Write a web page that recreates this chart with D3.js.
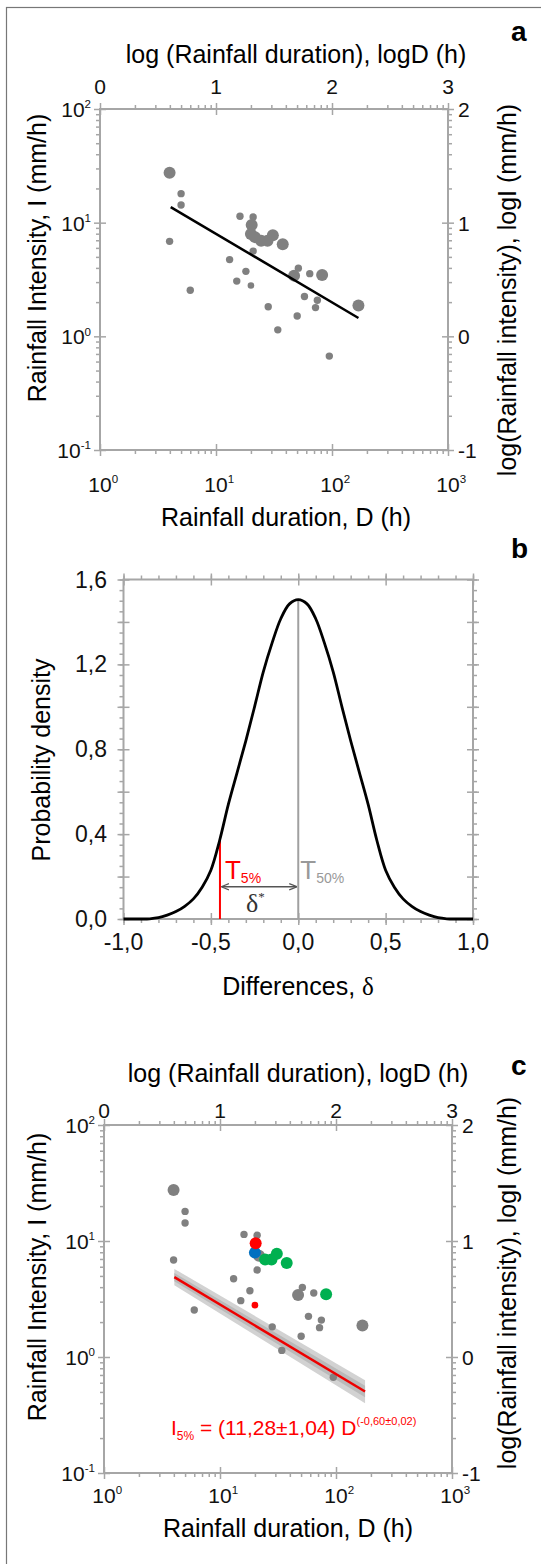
<!DOCTYPE html>
<html>
<head>
<meta charset="utf-8">
<script src="https://cdn.jsdelivr.net/npm/d3@7"></script>
<style>
  body { margin: 0; background: #fff; }
  svg { display: block; font-family: 'Liberation Sans', Arial, sans-serif; }
  .tick line { stroke: #a6a6a6; stroke-width: 1.5; }
  .ticklab { font-family: 'Liberation Sans Narrow', 'Arial Narrow', 'Liberation Sans', sans-serif; fill: #111; }
</style>
</head>
<body>
<svg id="fig" width="541" height="1564"></svg>
<script>
// Rainfall intensity-duration data (panels a and c) and density of differences (panel b)

// Rain events: duration D (h), intensity I (mm/h)
const durationD = [3.98, 5.0, 5.0, 3.98, 6.0, 16.1, 20.9, 20.3, 20.0, 21.7, 24.5, 27.8, 30.9, 37.6, 20.9,
  13.1, 18.1, 15.1, 20.0, 28.2, 34.1, 50.1, 51.3, 47.1, 64.3, 82.2, 57.9, 74.8, 72.1, 169, 94.8]
const intensityI = [27.5, 18.0, 14.3, 6.85, 2.54, 11.4, 11.2, 9.55, 7.94, 7.46, 6.92, 6.92, 7.76, 6.46, 5.62,
  4.73, 3.73, 3.06, 2.80, 1.82, 1.14, 1.51, 3.98, 3.42, 3.56, 3.47, 2.24, 2.08, 1.79, 1.87, 0.67]
// L = large marker, S = small marker
const pointSize = ['L', 'S', 'S', 'S', 'S', 'S', 'S', 'L', 'L', 'L', 'L', 'L', 'L', 'L', 'S',
  'S', 'S', 'S', 'S', 'S', 'S', 'S', 'S', 'L', 'S', 'L', 'S', 'S', 'S', 'L', 'S']
// colour of each event in panel c
const groupC = ['gray', 'gray', 'gray', 'gray', 'gray', 'gray', 'gray', 'red', 'blue', 'gray', 'green', 'green', 'green', 'green', 'gray',
  'gray', 'gray', 'gray', 'red', 'gray', 'gray', 'gray', 'gray', 'gray', 'gray', 'green', 'gray', 'gray', 'gray', 'gray', 'gray']

// Panel a: best fit line ends
const fitD = [4.07, 169]
const fitI = [13.7, 1.45]

// Panel c: 5% threshold line and its uncertainty band
const t5D = [4.04, 178]
const t5I = [4.88, 0.504]
const bandOuterHi = [5.75, 0.63]
const bandOuterLo = [4.15, 0.40]
const bandInnerHi = [5.3, 0.565]
const bandInnerLo = [4.5, 0.45]

// Panel b: probability density of differences
const deltaVals = [-1.0, -0.95, -0.9, -0.85, -0.8, -0.75, -0.7, -0.65, -0.6, -0.55, -0.5, -0.45, -0.4, -0.35, -0.3, -0.25, -0.2, -0.15, -0.1, -0.05,
  0, 0.05, 0.1, 0.15, 0.2, 0.25, 0.3, 0.35, 0.4, 0.45, 0.5, 0.55, 0.6, 0.65, 0.7, 0.75, 0.8, 0.85, 0.9, 0.95, 1.0]
const densityVals = [0, 0, 0, 0.001, 0.006, 0.018, 0.035, 0.06, 0.095, 0.15, 0.23, 0.37, 0.54, 0.69, 0.84, 1.0, 1.165, 1.30, 1.415, 1.485,
  1.505, 1.485, 1.415, 1.30, 1.165, 1.0, 0.84, 0.69, 0.54, 0.37, 0.23, 0.15, 0.095, 0.06, 0.035, 0.018, 0.006, 0.001, 0, 0, 0]
const delta5 = -0.448
const delta50 = 0
const arrowLevel = 0.152

// Tick labels
const logDLabels = ['0', '1', '2', '3']
const logILabels = ['2', '1', '0', '-1']
const decadeExpD = ['0', '1', '2', '3']
const decadeExpI = ['2', '1', '0', '-1']

const AXIS = '#a6a6a6'
const DOT = '#808080'
const COLORS = { gray: DOT, red: '#ff0000', blue: '#0070c0', green: '#00b050' }

const svg = d3.select('#fig')

// Outer frame
svg.append('rect')
  .attr('x', 6.5).attr('y', 7.5)
  .attr('width', 560).attr('height', 1580)
  .attr('fill', 'none').attr('stroke', '#777').attr('stroke-width', 1.2)

function logMinor (lo, hi) {
  let out = []
  for (let e = Math.round(Math.log10(lo)); e < Math.round(Math.log10(hi)); e++) {
    for (let m = 2; m <= 9; m++) out.push(m * Math.pow(10, e))
  }
  return out
}

// Draw d3 axis ticks only (no domain line)
function ticks (g, axis, tx, ty) {
  let a = g.append('g')
    .attr('transform', 'translate(' + tx + ',' + ty + ')')
    .call(axis)
  a.select('.domain').remove()
  return a
}

// "10" with superscript exponent
function powLabel (g, x, y, exp, anchor, fs) {
  let t = g.append('text')
    .attr('class', 'ticklab')
    .attr('y', y)
    .attr('font-size', fs)
    .text('10')
  let w = t.node().getComputedTextLength()
  t.append('tspan')
    .attr('font-size', fs * 0.55)
    .attr('dy', -fs * 0.42)
    .text(exp)
  let full = t.node().getComputedTextLength()
  if (anchor === 'middle') t.attr('x', x - w / 2)
  else if (anchor === 'end') t.attr('x', x - full)
  else t.attr('x', x)
}

function drawLogPanel (box, cfg) {
  let g = svg.append('g')
  let x = d3.scaleLog().domain([1, 1000]).range([box.x0, box.x1])
  let y = d3.scaleLog().domain([0.1, 100]).range([box.y1, box.y0])
  let decX = [1, 10, 100, 1000]
  let decY = [0.1, 1, 10, 100]
  let minX = logMinor(1, 1000)
  let minY = logMinor(0.1, 100)
  let none = () => ''

  // minor ticks, outward
  ticks(g, d3.axisBottom(x).tickValues(minX).tickSize(4).tickFormat(none), 0, box.y1)
  ticks(g, d3.axisTop(x).tickValues(minX).tickSize(4).tickFormat(none), 0, box.y0)
  ticks(g, d3.axisLeft(y).tickValues(minY).tickSize(4).tickFormat(none), box.x0, 0)
  ticks(g, d3.axisRight(y).tickValues(minY).tickSize(4).tickFormat(none), box.x1, 0)
  // major ticks, crossing
  ticks(g, d3.axisBottom(x).tickValues(decX).tickSize(12).tickFormat(none), 0, box.y1 - 6)
  ticks(g, d3.axisTop(x).tickValues(decX).tickSize(12).tickFormat(none), 0, box.y0 + 6)
  ticks(g, d3.axisLeft(y).tickValues(decY).tickSize(12).tickFormat(none), box.x0 + 6, 0)
  ticks(g, d3.axisRight(y).tickValues(decY).tickSize(12).tickFormat(none), box.x1 - 6, 0)

  g.append('rect')
    .attr('x', box.x0).attr('y', box.y0)
    .attr('width', box.x1 - box.x0).attr('height', box.y1 - box.y0)
    .attr('fill', 'none').attr('stroke', AXIS).attr('stroke-width', 2)

  // tick labels
  let fs = 21
  decX.forEach((d, i) => {
    powLabel(g, x(d), cfg.bottomLabY, decadeExpD[i], 'middle', fs)
    g.append('text').attr('class', 'ticklab')
      .attr('x', x(d)).attr('y', cfg.topLabY)
      .attr('text-anchor', 'middle').attr('font-size', fs)
      .text(logDLabels[i])
  })
  decY.slice().reverse().forEach((d, i) => {
    powLabel(g, box.x0 - 9, y(d) + 8, decadeExpI[i], 'end', fs)
    g.append('text').attr('class', 'ticklab')
      .attr('x', box.x1 + 10).attr('y', y(d) + 8)
      .attr('font-size', fs)
      .text(logILabels[i])
  })

  // axis titles
  g.append('text')
    .attr('x', cfg.titleX).attr('y', cfg.topTitleY)
    .attr('text-anchor', 'middle').attr('font-size', 25)
    .text('log (Rainfall duration), logD (h)')
  g.append('text')
    .attr('x', cfg.titleX - 10).attr('y', cfg.bottomTitleY)
    .attr('text-anchor', 'middle').attr('font-size', 25)
    .text('Rainfall duration, D (h)')
  g.append('text')
    .attr('transform', 'translate(46,' + cfg.leftTitleY + ') rotate(-90)')
    .attr('text-anchor', 'middle').attr('font-size', 25)
    .text('Rainfall Intensity, I (mm/h)')
  g.append('text')
    .attr('transform', 'translate(516,' + cfg.rightTitleY + ') rotate(-90)')
    .attr('text-anchor', 'middle').attr('font-size', 25)
    .text('log(Rainfall intensity), logI (mm/h)')
  g.append('text')
    .attr('x', 511).attr('y', cfg.letterY)
    .attr('font-size', 28).attr('font-weight', 'bold')
    .text(cfg.letter)

  return { g: g, x: x, y: y }
}

function radius (i) {
  if (pointSize[i] === 'L') return 6
  return groupC[i] === 'red' ? 3.3 : 3.7
}

let idx = d3.range(durationD.length)

// ---------- Panel a ----------
let pa = drawLogPanel({ x0: 100, x1: 448, y0: 109, y1: 450 },
  { topLabY: 94, bottomLabY: 492, topTitleY: 63, bottomTitleY: 526, titleX: 296,
    leftTitleY: 258, rightTitleY: 290, letter: 'a', letterY: 41 })

pa.g.append('g').selectAll('circle')
  .data(idx)
  .join('circle')
  .attr('cx', i => pa.x(durationD[i]))
  .attr('cy', i => pa.y(intensityI[i]))
  .attr('r', radius)
  .attr('fill', DOT)

pa.g.append('line')
  .attr('x1', pa.x(fitD[0])).attr('y1', pa.y(fitI[0]))
  .attr('x2', pa.x(fitD[1])).attr('y2', pa.y(fitI[1]))
  .attr('stroke', '#000').attr('stroke-width', 2.5)

// ---------- Panel b ----------
let bx = d3.scaleLinear().domain([-1, 1]).range([123.5, 473])
let by = d3.scaleLinear().domain([0, 1.6]).range([919, 579.5])
let gb = svg.append('g')
let none = () => ''
let xMinor = d3.range(-10, 11).map(d => d / 10)
let xMajor = [-1, -0.5, 0, 0.5, 1]
let yMinor = d3.range(0, 33).map(d => d * 0.05)
let yMajor = d3.range(0, 9).map(d => d * 0.2)
let yLab = [0, 0.4, 0.8, 1.2, 1.6]

ticks(gb, d3.axisBottom(bx).tickValues(xMinor).tickSize(4).tickFormat(none), 0, 919)
ticks(gb, d3.axisTop(bx).tickValues(xMinor).tickSize(4).tickFormat(none), 0, 579.5)
ticks(gb, d3.axisBottom(bx).tickValues(xMajor).tickSize(12).tickFormat(none), 0, 913)
ticks(gb, d3.axisTop(bx).tickValues(xMajor).tickSize(12).tickFormat(none), 0, 585.5)
ticks(gb, d3.axisLeft(by).tickValues(yMinor).tickSize(4).tickFormat(none), 123.5, 0)
ticks(gb, d3.axisRight(by).tickValues(yMinor).tickSize(4).tickFormat(none), 473, 0)
ticks(gb, d3.axisLeft(by).tickValues(yMajor).tickSize(12).tickFormat(none), 129.5, 0)
ticks(gb, d3.axisRight(by).tickValues(yMajor).tickSize(12).tickFormat(none), 467, 0)

gb.append('rect')
  .attr('x', 123.5).attr('y', 579.5)
  .attr('width', 473 - 123.5).attr('height', 919 - 579.5)
  .attr('fill', 'none').attr('stroke', AXIS).attr('stroke-width', 2)

let comma = d3.format('.1f')
xMajor.forEach(d => {
  gb.append('text').attr('class', 'ticklab')
    .attr('x', bx(d)).attr('y', 950)
    .attr('text-anchor', 'middle').attr('font-size', 23)
    .text(comma(d).replace('.', ',').replace('−', '-'))
})
yLab.forEach(d => {
  gb.append('text').attr('class', 'ticklab')
    .attr('x', 107).attr('y', by(d) + 8)
    .attr('text-anchor', 'end').attr('font-size', 23)
    .text(comma(d).replace('.', ','))
})

// T50 and T5 verticals
gb.append('line')
  .attr('x1', bx(delta50)).attr('x2', bx(delta50))
  .attr('y1', by(0)).attr('y2', by(1.505))
  .attr('stroke', '#a0a0a0').attr('stroke-width', 2)
gb.append('line')
  .attr('x1', bx(delta5)).attr('x2', bx(delta5))
  .attr('y1', by(0)).attr('y2', by(0.375))
  .attr('stroke', '#ff0000').attr('stroke-width', 2)

// density curve
let line = d3.line()
  .x((d, i) => bx(deltaVals[i]))
  .y(d => by(d))
  .curve(d3.curveCatmullRom.alpha(0.5))
gb.append('path')
  .attr('d', line(densityVals))
  .attr('fill', 'none').attr('stroke', '#000').attr('stroke-width', 2.8)

// double arrow
let defs = svg.append('defs')
defs.append('marker')
  .attr('id', 'ah').attr('viewBox', '0 0 10 10')
  .attr('refX', 9).attr('refY', 5)
  .attr('markerWidth', 6).attr('markerHeight', 6)
  .attr('orient', 'auto-start-reverse')
  .append('path').attr('d', 'M0,1 L10,5 L0,9').attr('fill', 'none').attr('stroke', '#555').attr('stroke-width', 1.6)
gb.append('line')
  .attr('x1', bx(delta5) + 2).attr('x2', bx(delta50) - 2)
  .attr('y1', by(arrowLevel)).attr('y2', by(arrowLevel))
  .attr('stroke', '#555').attr('stroke-width', 1.3)
  .attr('marker-start', 'url(#ah)').attr('marker-end', 'url(#ah)')

let t5 = gb.append('text').attr('class', 'ticklab')
  .attr('x', bx(delta5) + 5).attr('y', 879)
  .attr('font-size', 26).style('fill', '#ff0000')
  .text('T')
t5.append('tspan').attr('font-size', 14).attr('dy', 4).text('5%')
let t50 = gb.append('text').attr('class', 'ticklab')
  .attr('x', bx(delta50) + 2).attr('y', 879)
  .attr('font-size', 26).style('fill', '#999')
  .text('T')
t50.append('tspan').attr('font-size', 14).attr('dy', 4).text('50%')
let ds = gb.append('text')
  .attr('x', 246).attr('y', 912)
  .attr('font-family', "'Liberation Serif', 'DejaVu Serif', serif")
  .attr('font-size', 26).attr('fill', '#333')
  .text('δ')
ds.append('tspan').attr('font-size', 13).attr('dy', -11).text('*')

gb.append('text')
  .attr('x', 298).attr('y', 995)
  .attr('text-anchor', 'middle').attr('font-size', 25)
  .text('Differences, ')
  .append('tspan').attr('font-family', "'Liberation Serif', serif").text('δ')
gb.append('text')
  .attr('transform', 'translate(50,760) rotate(-90)')
  .attr('text-anchor', 'middle').attr('font-size', 25)
  .text('Probability density')
gb.append('text')
  .attr('x', 511).attr('y', 558)
  .attr('font-size', 28).attr('font-weight', 'bold')
  .text('b')

// ---------- Panel c ----------
let pc = drawLogPanel({ x0: 104, x1: 452, y0: 1125, y1: 1473 },
  { topLabY: 1118, bottomLabY: 1503, topTitleY: 1082, bottomTitleY: 1537, titleX: 298,
    leftTitleY: 1277, rightTitleY: 1283, letter: 'c', letterY: 1075 })

let bandPath = (hi, lo) => {
  let pts = [[t5D[0], hi[0]], [t5D[1], hi[1]], [t5D[1], lo[1]], [t5D[0], lo[0]]]
  return 'M' + pts.map(p => pc.x(p[0]) + ',' + pc.y(p[1])).join('L') + 'Z'
}
pc.g.append('path').attr('d', bandPath(bandOuterHi, bandOuterLo)).attr('fill', '#d2d2d2')
pc.g.append('path').attr('d', bandPath(bandInnerHi, bandInnerLo)).attr('fill', '#b9b9b9')

let order = idx.filter(i => groupC[i] === 'gray')
  .concat(idx.filter(i => groupC[i] === 'green'))
  .concat(idx.filter(i => groupC[i] === 'blue'))
  .concat(idx.filter(i => groupC[i] === 'red'))

pc.g.append('g').selectAll('circle')
  .data(order)
  .join('circle')
  .attr('cx', i => pc.x(durationD[i]))
  .attr('cy', i => pc.y(intensityI[i]))
  .attr('r', radius)
  .attr('fill', i => COLORS[groupC[i]])

pc.g.append('line')
  .attr('x1', pc.x(t5D[0])).attr('y1', pc.y(t5I[0]))
  .attr('x2', pc.x(t5D[1])).attr('y2', pc.y(t5I[1]))
  .attr('stroke', '#ee0000').attr('stroke-width', 2.5)

let eq = pc.g.append('text')
  .attr('x', 171).attr('y', 1435)
  .attr('font-size', 21).attr('fill', '#ff0000')
  .text('I')
eq.append('tspan').attr('font-size', 12).attr('dy', 5).text('5%')
eq.append('tspan').attr('dy', -5).text(' = (11,28±1,04) D')
eq.append('tspan').attr('font-size', 11).attr('dy', -10).text('(-0,60±0,02)')
</script>
</body>
</html>
